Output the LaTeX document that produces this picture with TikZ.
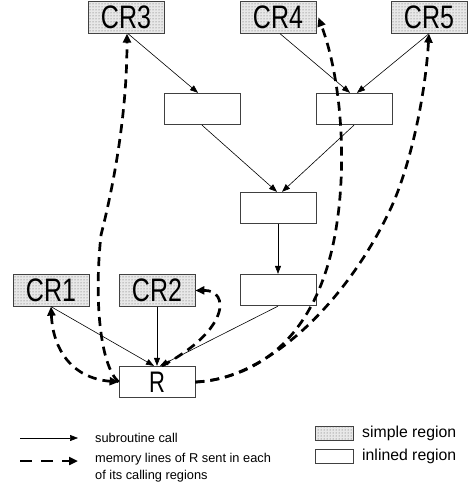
\documentclass[tikz,border=0pt]{standalone}
\usepackage{fontspec}
\setmainfont{Liberation Sans}
\usetikzlibrary{arrows.meta,patterns}
\newcommand\talltext[2]{\scalebox{1}[#1]{#2}}
\begin{document}
\begin{tikzpicture}[x=1pt,y=-1pt,
  region/.style={draw=black!75, line width=0.8pt, minimum width=76pt, minimum height=31.5pt, inner sep=0pt, font=\fontsize{25}{26}\selectfont},
  simple/.style={region, fill=gray!18, postaction={pattern=dots, pattern color=black!65}},
  call/.style={line width=0.6pt, -{Triangle[length=8pt,width=6pt]}},
  mem/.style={line width=2.7pt, dash pattern=on 9pt off 6pt, -{Triangle[length=9pt,width=8pt]}},
  legtext/.style={anchor=west, inner sep=0pt, align=left},
]
\useasboundingbox (0,0) rectangle (468,493);

% regions
\node[simple] (CR3) at (126,17.5) {\talltext{1.3}{CR3}};
\node[simple] (CR4) at (278,17.5) {\talltext{1.3}{CR4}};
\node[simple] (CR5) at (429,17.5) {\talltext{1.3}{CR5}};
\node[region] (A) at (202,109) {};
\node[region] (B) at (354,109) {};
\node[region] (C) at (278,208) {};
\node[region] (D) at (278,290) {};
\node[simple] (CR1) at (51,290.5) {\talltext{1.3}{CR1}};
\node[simple] (CR2) at (157,290.5) {\talltext{1.3}{CR2}};
\node[region, font=\fontsize{22}{23}\selectfont] (R) at (157,382) {\talltext{1.35}{R}};

% subroutine calls
\draw[call] ([xshift=2pt]CR3.south) -- ([xshift=-4pt]A.north);
\draw[call] ([xshift=2pt]CR4.south) -- ([xshift=-4pt]B.north);
\draw[call] (CR5.south) -- ([xshift=3pt]B.north);
\draw[call] (A.south) -- ([xshift=-1pt]C.north);
\draw[call] (B.south) -- ([xshift=4pt]C.north);
\draw[call] (C.south) -- (D.north);
\draw[call] (CR1.south) -- ([xshift=-3pt]R.north);
\draw[call] (CR2.south) -- (R.north);
\draw[call] (D.south) -- ([xshift=3pt]R.north);

% memory lines
\draw[mem, {Triangle[length=9pt,width=8pt]}-{Triangle[length=9pt,width=8pt]}]
  (CR1.south) .. controls (53,350) and (72,378) .. (R.west);
\draw[mem] (R.west) .. controls (100,365) and (94,300) .. (101,235)
  .. controls (115,180) and (127,110) .. ([xshift=1pt]CR3.south);
\draw[mem] ([xshift=5pt]R.north) .. controls (230,330) and (230,290) .. (CR2.east);
\draw[mem] (R.east) .. controls (260,378) and (315,335) .. (334,240)
  .. controls (348,170) and (342,80) .. ([xshift=2pt]CR4.east);
\draw[mem] (R.east) .. controls (265,380) and (345,305) .. (390,210)
  .. controls (409,170) and (425,100) .. (CR5.south);

% legend
\coordinate (la1) at (20,438);
\coordinate (lb1) at (78,438);
\draw[call] (la1) -- (lb1);
\node[legtext, font=\fontsize{12.8}{17}\selectfont] (t1) at (95,438) {subroutine call};
\coordinate (la2) at (20,461);
\coordinate (lb2) at (78,461);
\draw[mem, dash pattern=on 12pt off 9pt] (la2) -- (lb2);
\node[legtext, font=\fontsize{12.8}{17}\selectfont, anchor=north west] (t2) at (95,453) {memory lines of R sent in each\\of its calling regions};
\node[simple, minimum width=38pt, minimum height=14pt] (ls) at (334,433) {};
\node[region, minimum width=38pt, minimum height=14pt] (li) at (334,456) {};
\node[legtext, font=\fontsize{15.8}{17}\selectfont] (t3) at (362,433) {simple region};
\node[legtext, font=\fontsize{15.8}{17}\selectfont] (t4) at (362,456) {inlined region};
\end{tikzpicture}
\end{document}
